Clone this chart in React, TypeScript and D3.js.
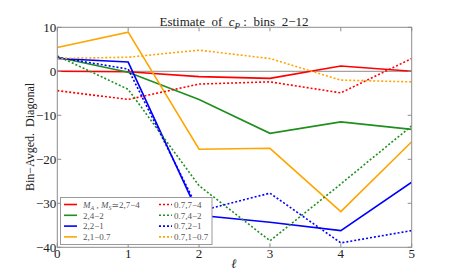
import React from "react";
import * as d3 from "d3";

const ells = [0, 1, 2, 3, 4, 5];
const seriesNames = ["MA", "2,4−2", "2,2−1", "2,1−0.7", "0.7,7−4", "0.7,4−2", "0.7,2−1", "0.7,1−0.7"];
const maSolid = [0, -0.1, -1.2, -1.6, 1.2, 0];
const g42Solid = [3.2, -0.2, -6.4, -14.1, -11.5, -13.2];
const b21Solid = [2.9, 2.1, -32.7, -34.3, -36.2, -25.2];
const o107Solid = [5.4, 8.9, -17.7, -17.5, -31.9, -16];
const r74Dot = [-4.4, -6.4, -2.9, -2.4, -4.9, 2.9];
const g42Dot = [3.5, -4.1, -26, -38.5, -25.6, -12.4];
const b21Dot = [3.2, 0.5, -31.8, -27.7, -39, -36.2];
const o107Dot = [2.9, 3.2, 4.8, 2.9, -2, -2.4];
const yTicks = [10, 0, -10, -20, -30, -40];
const xTicks = [0, 1, 2, 3, 4, 5];

const W = 457, H = 276;
const L = 57.3, R = 411.7, T = 27.3, B = 247.3;
const FONT = "Liberation Serif, DejaVu Serif, serif";

const series = [
  { vals: maSolid, color: "#ff0000", dash: "" },
  { vals: g42Solid, color: "#1f8f1f", dash: "" },
  { vals: b21Solid, color: "#0000ff", dash: "" },
  { vals: o107Solid, color: "#ffa500", dash: "" },
  { vals: r74Dot, color: "#ff0000", dash: "2,2" },
  { vals: g42Dot, color: "#1f8f1f", dash: "2,2" },
  { vals: b21Dot, color: "#0000ff", dash: "2,2" },
  { vals: o107Dot, color: "#ffa500", dash: "2,2" },
];

const tStyle = { fontFamily: FONT };

export default function App() {
  const x = d3.scaleLinear().domain([0, 5]).range([L, R]);
  const y = d3.scaleLinear().domain([-40, 10]).range([B, T]);
  const line = d3.line<number>().x((_, i) => x(ells[i])).y((v) => y(v));
  const frame = "#8c8c8c";
  const legRows = [204.5, 215.3, 226.1, 236.9];
  return (
    <svg width={W} height={H} style={{ position: "absolute", left: 0, top: 0 }}>
      <rect width={W} height={H} fill="#fff" />
      <defs>
        <clipPath id="plot">
          <rect x={L} y={T} width={R - L} height={B - T} />
        </clipPath>
      </defs>
      <line x1={L} x2={R} y1={y(0)} y2={y(0)} stroke="#8c8c8c" strokeWidth={1} />
      <g clipPath="url(#plot)">
        {series.map((s, i) => (
          <path key={i} d={line(s.vals) || ""} fill="none" stroke={s.color} strokeWidth={1.6}
            strokeDasharray={s.dash || undefined} />
        ))}
      </g>
      <rect x={L} y={T} width={R - L} height={B - T} fill="none" stroke={frame} strokeWidth={1} />
      {xTicks.map((t) => (
        <g key={"x" + t}>
          <line x1={x(t)} x2={x(t)} y1={B} y2={B - 4} stroke={frame} />
          <line x1={x(t)} x2={x(t)} y1={T} y2={T + 4} stroke={frame} />
          <text x={x(t)} y={258} textAnchor="middle" style={tStyle} fontSize={13} fill="#222">{t}</text>
        </g>
      ))}
      {yTicks.map((t) => (
        <g key={"y" + t}>
          <line x1={L} x2={L + 4} y1={y(t)} y2={y(t)} stroke={frame} />
          <line x1={R} x2={R - 4} y1={y(t)} y2={y(t)} stroke={frame} />
          <text x={L - 1} y={y(t) + 4.5} textAnchor="end" style={tStyle} fontSize={13} fill="#222">
            {t < 0 ? "\u2212" + Math.abs(t) : String(t)}
          </text>
        </g>
      ))}
      <text x={234} y={26} textAnchor="middle" style={tStyle} fontSize={13} fill="#222">
        Estimate{"\u00a0\u00a0"}of{"\u00a0\u00a0"}<tspan fontStyle="italic">c</tspan>
        <tspan fontStyle="italic" fontSize={9} dy={3}>P</tspan>
        <tspan dy={-3}>{"\u00a0"}:{"\u00a0\u00a0"}bins{"\u00a0\u00a0"}2−12</tspan>
      </text>
      <text transform="translate(34,137) rotate(-90)" textAnchor="middle" style={tStyle} fontSize={12} fill="#222">
        Bin−Avged.{"\u00a0\u00a0"}Diagonal
      </text>
      <text x={234} y={268} textAnchor="middle" style={tStyle} fontSize={13} fontStyle="italic" fill="#222">ℓ</text>
      <rect x={60.5} y={197.5} width={151.5} height={47} fill="#fff" stroke="#999" strokeWidth={1} />
      {series.map((s, i) => {
        const col = i < 4 ? 0 : 1;
        const row = i % 4;
        const hx = col === 0 ? 64 : 159;
        const tx = col === 0 ? 83 : 174;
        const yy = legRows[row];
        return (
          <g key={"leg" + i}>
            <line x1={hx} x2={hx + 13} y1={yy} y2={yy} stroke={s.color} strokeWidth={1.6}
              strokeDasharray={s.dash || undefined} />
            <text x={tx} y={yy + 3.2} style={tStyle} fontSize={9} fill="#555">
              {i === 0 ? (
                <>
                  <tspan fontStyle="italic">M</tspan>
                  <tspan fontStyle="italic" fontSize={6} dy={2}>A</tspan>
                  <tspan dy={-2}>{"\u00a0,\u00a0"}</tspan>
                  <tspan fontStyle="italic">M</tspan>
                  <tspan fontStyle="italic" fontSize={6} dy={2}>S</tspan>
                  <tspan dy={-2}>{"\u2243"}2,7−4</tspan>
                </>
              ) : seriesNames[i]}
            </text>
          </g>
        );
      })}
    </svg>
  );
}
